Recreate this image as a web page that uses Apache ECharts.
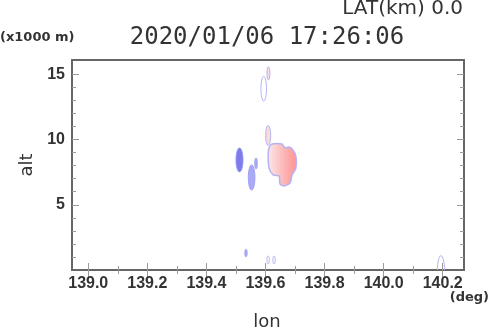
<!DOCTYPE html>
<html>
<head>
<meta charset="utf-8">
<script src="https://cdn.jsdelivr.net/npm/echarts@6/dist/echarts.min.js"></script>
<style>
  html, body { margin: 0; padding: 0; background: #fff; }
  #chart { width: 490px; height: 331px; }
</style>
</head>
<body>
<div id="chart"></div>
<script>
// axis ticks
const lonTicks = [139.0, 139.2, 139.4, 139.6, 139.8, 140.0, 140.2]
const lonMinor = [139.1, 139.3, 139.5, 139.7, 139.9, 140.1]
const altTicks = [5, 10, 15]
const altMinor = [1, 2, 3, 4, 6, 7, 8, 9, 11, 12, 13, 14]

// small echo cells: centre, half extent (deg / km) and level (<0 blue, >0 red, 0 outline)
const echoLon = [139.512, 139.553, 139.568, 139.609, 139.594, 139.610, 139.534, 139.609, 139.629, 140.194]
const echoAlt = [8.44, 7.09, 8.17, 10.31, 13.90, 15.08, 1.30, 0.77, 0.77, 0.0]
const echoHalfLon = [0.0119, 0.0112, 0.0045, 0.0085, 0.0095, 0.005, 0.004, 0.004, 0.004, 0.012]
const echoHalfAlt = [0.92, 0.96, 0.42, 0.77, 0.94, 0.5, 0.29, 0.31, 0.31, 1.1]
const echoLevel = [-3, -2, -2, 1, 0, 1, -2, 0, 0, 0]

// main red cell outline
const coreLon = [139.622, 139.656, 139.666, 139.680, 139.693, 139.703, 139.703, 139.690,
    139.683, 139.663, 139.649, 139.646, 139.626, 139.612, 139.609, 139.612]
const coreAlt = [9.66, 9.66, 9.36, 9.43, 9.20, 8.74, 7.82, 7.29,
    6.67, 6.44, 6.60, 7.21, 7.29, 7.82, 8.82, 9.36]

const levelFill = {'-3': '#7c7cef', '-2': '#ababf5', '0': 'rgba(255,255,255,0)', '1': '#fbdada'}
const levelStroke = {'-3': '#9a9af2', '-2': '#a0a0f2', '0': '#b4b4f4', '1': '#b4b4f4'}

const chart = echarts.init(document.getElementById('chart'))

const tickColor = '#9a9a9a'
const labelFont = {fontFamily: 'Liberation Sans', fontWeight: 'bold', fontSize: 16, color: '#333'}

let xAx = (pos, values, len, labels) => ({
    type: 'value', position: pos, min: 138.945, max: 140.272,
    axisLine: {show: false}, splitLine: {show: false},
    axisTick: {inside: true, length: len, customValues: values, lineStyle: {color: tickColor}},
    axisLabel: labels ? Object.assign({customValues: values, margin: 6, formatter: v => v.toFixed(1)}, labelFont) : {show: false}
})
let yAx = (pos, values, len, labels) => ({
    type: 'value', position: pos, min: 0, max: 16.1,
    axisLine: {show: false}, splitLine: {show: false},
    axisTick: {inside: true, length: len, customValues: values, lineStyle: {color: tickColor}},
    axisLabel: labels ? Object.assign({customValues: values, margin: 7}, labelFont) : {show: false}
})

let ellipsePoints = (c, rx, ry) => {
    let pts = []
    for (let i = 0; i < 32; i++) {
        let a = i / 32 * Math.PI * 2
        pts.push([c[0] + rx * Math.cos(a), c[1] + ry * Math.sin(a)])
    }
    return pts
}

let echoData = echoLon.map((v, i) => [v, echoAlt[i], echoHalfLon[i], echoHalfAlt[i], echoLevel[i]])

chart.setOption({
    animation: false,
    grid: {left: 72, right: 26, top: 60, bottom: 61, show: true, borderColor: '#666', borderWidth: 2, backgroundColor: '#fff'},
    xAxis: [
        xAx('bottom', lonTicks, 7, true),
        xAx('bottom', lonMinor, 4, false),
        xAx('top', lonTicks, 7, false),
        xAx('top', lonMinor, 4, false)
    ],
    yAxis: [
        yAx('left', altTicks, 7, true),
        yAx('left', altMinor, 4, false),
        yAx('right', altTicks, 7, false),
        yAx('right', altMinor, 4, false)
    ],
    series: [
        {
            type: 'custom', clip: true, xAxisIndex: 0, yAxisIndex: 0,
            data: [0],
            renderItem: (params, api) => {
                let pts = coreLon.map((v, i) => api.coord([v, coreAlt[i]]))
                return {
                    type: 'polygon',
                    shape: {points: pts, smooth: 0.25},
                    style: {
                        fill: new echarts.graphic.LinearGradient(0, 0, 1, 0, [
                            {offset: 0, color: '#fde9e9'},
                            {offset: 0.45, color: '#fcc0c0'},
                            {offset: 1, color: '#ff9090'}
                        ]),
                        stroke: '#b4b4f4', lineWidth: 1.5
                    }
                }
            }
        },
        {
            type: 'custom', clip: true, xAxisIndex: 0, yAxisIndex: 0,
            data: echoData,
            renderItem: (params, api) => {
                let c = api.coord([api.value(0), api.value(1)])
                let s = api.size([api.value(2), api.value(3)])
                let lv = String(api.value(4))
                return {
                    type: 'polygon',
                    shape: {points: ellipsePoints(c, s[0], s[1])},
                    style: {fill: levelFill[lv], stroke: levelStroke[lv], lineWidth: 1}
                }
            }
        }
    ],
    graphic: [
        {type: 'text', x: 463, y: 9, style: {text: 'LAT(km) 0.0', font: '20px "DejaVu Sans"', fill: '#333', align: 'right', verticalAlign: 'middle'}},
        {type: 'text', x: 267, y: 38, style: {text: '2020/01/06 17:26:06', font: '24px "DejaVu Sans Mono"', fill: '#333', align: 'center', verticalAlign: 'middle'}},
        {type: 'text', x: 0, y: 38, style: {text: '(x1000 m)', font: 'bold 13px "DejaVu Sans"', fill: '#333', align: 'left', verticalAlign: 'middle'}},
        {type: 'text', x: 489, y: 298, style: {text: '(deg)', font: 'bold 13px "DejaVu Sans"', fill: '#333', align: 'right', verticalAlign: 'middle'}},
        {type: 'text', x: 267, y: 322, style: {text: 'lon', font: '18px "DejaVu Sans"', fill: '#333', align: 'center', verticalAlign: 'middle'}},
        {type: 'text', x: 27, y: 165, rotation: Math.PI / 2, style: {text: 'alt', font: '18px "DejaVu Sans"', fill: '#333', align: 'center', verticalAlign: 'middle'}}
    ]
})
</script>
</body>
</html>
